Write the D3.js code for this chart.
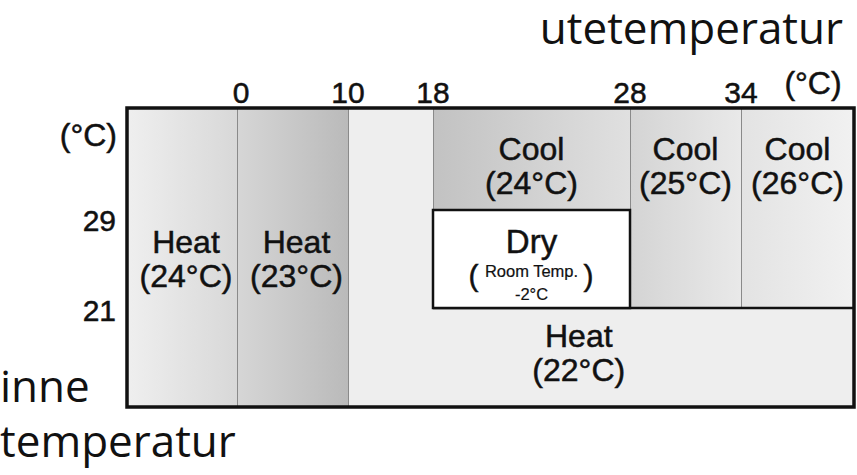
<!DOCTYPE html>
<html>
<head>
<meta charset="utf-8">
<script src="https://cdn.jsdelivr.net/npm/d3@7"></script>
<style>
html,body{margin:0;padding:0;background:#fff;}
svg{display:block;}
</style>
</head>
<body>
<svg id="chart" width="857" height="475"></svg>
<script>
// ---- data ----
const outdoorBreaks = [-10, 0, 10, 18, 28, 34, 44];   // chart edges -10 / 44 are unlabeled
const outdoorTickValues = [0, 10, 18, 28, 34];
const indoorBreaks = [13, 21, 29, 37];                 // chart edges 13 / 37 are unlabeled
const indoorTickValues = [29, 21];
const zoneModes     = ["Heat", "Heat", "Heat", "Cool", "Cool", "Cool", "Dry"];
const zoneSetpoints = ["(24°C)", "(23°C)", "(22°C)", "(24°C)", "(25°C)", "(26°C)", "-2°C"];
const zoneOutFrom   = [-10, 0, 10, 18, 28, 34, 18];
const zoneOutTo     = [0, 10, 44, 28, 34, 44, 28];
const zoneInFrom    = [13, 13, 13, 29, 21, 21, 21];
const zoneInTo      = [37, 37, 37, 37, 37, 37, 29];
const xAxisTitle = "utetemperatur";
const yAxisTitle = ["inne", "temperatur"];
const unitLabel = "(°C)";
const dryNote = "Room Temp.";

// ---- layout ----
const svg = d3.select("#chart");
const x = d3.scaleLinear().domain(outdoorBreaks).range([127, 237, 348, 433, 630, 741, 854]);
const y = d3.scaleLinear().domain(indoorBreaks).range([407, 308, 210, 108]);

const gradStops = [
  ["#efefef", "#d8d8d8"],
  ["#d6d6d6", "#bababa"],
  null,
  ["#c2c2c2", "#e0e0e0"],
  ["#d4d4d4", "#e9e9e9"],
  ["#e3e3e3", "#f1f1f1"],
  null
];
const defs = svg.append("defs");
gradStops.forEach((s, i) => {
  if (!s) return;
  const g = defs.append("linearGradient").attr("id", "g" + i)
    .attr("x1", "0%").attr("x2", "100%").attr("y1", "0%").attr("y2", "0%");
  g.append("stop").attr("offset", "0%").attr("stop-color", s[0]);
  g.append("stop").attr("offset", "100%").attr("stop-color", s[1]);
});
const fillFor = i => i === 2 ? "#eeeeee" : (i === 6 ? "#ffffff" : `url(#g${i})`);

// draw order: heat22 background first
const order = [2, 0, 1, 3, 4, 5, 6];
svg.append("g").selectAll("rect").data(order).join("rect")
  .attr("x", i => x(zoneOutFrom[i]))
  .attr("y", i => y(zoneInTo[i]))
  .attr("width", i => x(zoneOutTo[i]) - x(zoneOutFrom[i]))
  .attr("height", i => y(zoneInFrom[i]) - y(zoneInTo[i]))
  .attr("fill", i => fillFor(i));

// thin gray dividers
const grid = svg.append("g").attr("stroke", "#8a8a8a").attr("stroke-width", 1);
[0, 10].forEach(v => grid.append("line")
  .attr("x1", x(v) + 0.5).attr("x2", x(v) + 0.5).attr("y1", y(37)).attr("y2", y(13)));
[18, 28, 34].forEach(v => grid.append("line")
  .attr("x1", x(v) + 0.5).attr("x2", x(v) + 0.5).attr("y1", y(37)).attr("y2", y(21)));

// black line at indoor 21 from 18 to right edge
svg.append("line").attr("x1", x(18)).attr("x2", x(44)).attr("y1", y(21)).attr("y2", y(21))
  .attr("stroke", "#111").attr("stroke-width", 2.5);
// dry box
svg.append("rect")
  .attr("x", x(zoneOutFrom[6])).attr("y", y(zoneInTo[6]))
  .attr("width", x(zoneOutTo[6]) - x(zoneOutFrom[6]))
  .attr("height", y(zoneInFrom[6]) - y(zoneInTo[6]))
  .attr("fill", "#fff").attr("stroke", "#111").attr("stroke-width", 2.5);

// outer frame
svg.append("rect").attr("x", x(-10)).attr("y", y(37))
  .attr("width", x(44) - x(-10)).attr("height", y(13) - y(37))
  .attr("fill", "none").attr("stroke", "#111").attr("stroke-width", 3.5);

// zone labels
const labelFont = "'Liberation Sans', Arial, Helvetica, sans-serif";
const labels = svg.append("g").attr("font-family", labelFont).attr("fill", "#111")
  .attr("stroke", "#111").attr("stroke-width", 0.5)
  .attr("text-anchor", "middle");
[0, 1, 2, 3, 4, 5].forEach(i => {
  let cx, cy;
  if (i === 2) { cx = x(25.4); cy = (y(13) + y(21)) / 2 - 7; }
  else if (i >= 3) { cx = (x(zoneOutFrom[i]) + x(zoneOutTo[i])) / 2; cy = (y(29) + y(37)) / 2 + 5; }
  else { cx = (x(zoneOutFrom[i]) + x(zoneOutTo[i])) / 2 + 4; cy = (y(13) + y(37)) / 2 - 1; }
  labels.append("text").attr("x", cx).attr("y", cy - 4).attr("font-size", 32).text(zoneModes[i]);
  labels.append("text").attr("x", cx).attr("y", cy + 30).attr("font-size", 32).text(zoneSetpoints[i]);
});
// dry label
{
  const cx = (x(18) + x(28)) / 2;
  const top = y(29);
  labels.append("text").attr("x", cx).attr("y", top + 43).attr("font-size", 33).text(zoneModes[6]);
  labels.append("text").attr("x", cx).attr("y", top + 67).attr("font-size", 16.5)
    .attr("stroke-width", 0.2).text(dryNote);
  labels.append("text").attr("x", cx).attr("y", top + 90).attr("font-size", 16.5)
    .attr("stroke-width", 0.2).text(zoneSetpoints[6]);
  labels.append("text").attr("x", cx - 58).attr("y", top + 76).attr("font-size", 30).text("(");
  labels.append("text").attr("x", cx + 57).attr("y", top + 76).attr("font-size", 30).text(")");
}

// top tick labels
const ticks = svg.append("g").attr("font-family", labelFont).attr("fill", "#111")
  .attr("stroke", "#111").attr("stroke-width", 0.5);
ticks.selectAll("text.xt").data(outdoorTickValues).join("text").attr("class", "xt")
  .attr("x", d => x(d) + (d === 0 ? 4 : 0)).attr("y", y(37) - 5)
  .attr("text-anchor", "middle").attr("font-size", 30).text(d => d);
ticks.append("text").attr("x", 813).attr("y", 94).attr("text-anchor", "middle")
  .attr("font-size", 32).text(unitLabel);
// left tick labels
ticks.selectAll("text.yt").data(indoorTickValues).join("text").attr("class", "yt")
  .attr("x", 116).attr("y", d => y(d) + (d === 29 ? 21 : 13))
  .attr("text-anchor", "end").attr("font-size", 30).text(d => d);
ticks.append("text").attr("x", 117).attr("y", 146).attr("text-anchor", "end")
  .attr("font-size", 32).text(unitLabel);

// axis titles
const titleFont = "'Open Sans', 'Noto Sans', sans-serif";
svg.append("text").attr("x", 843).attr("y", 44).attr("text-anchor", "end")
  .attr("font-family", titleFont).attr("font-size", 44).attr("fill", "#111").text(xAxisTitle);
svg.append("text").attr("x", 0).attr("y", 402)
  .attr("font-family", titleFont).attr("font-size", 44).attr("fill", "#111").text(yAxisTitle[0]);
svg.append("text").attr("x", 0).attr("y", 457)
  .attr("font-family", titleFont).attr("font-size", 44).attr("fill", "#111").text(yAxisTitle[1]);
</script>
</body>
</html>
